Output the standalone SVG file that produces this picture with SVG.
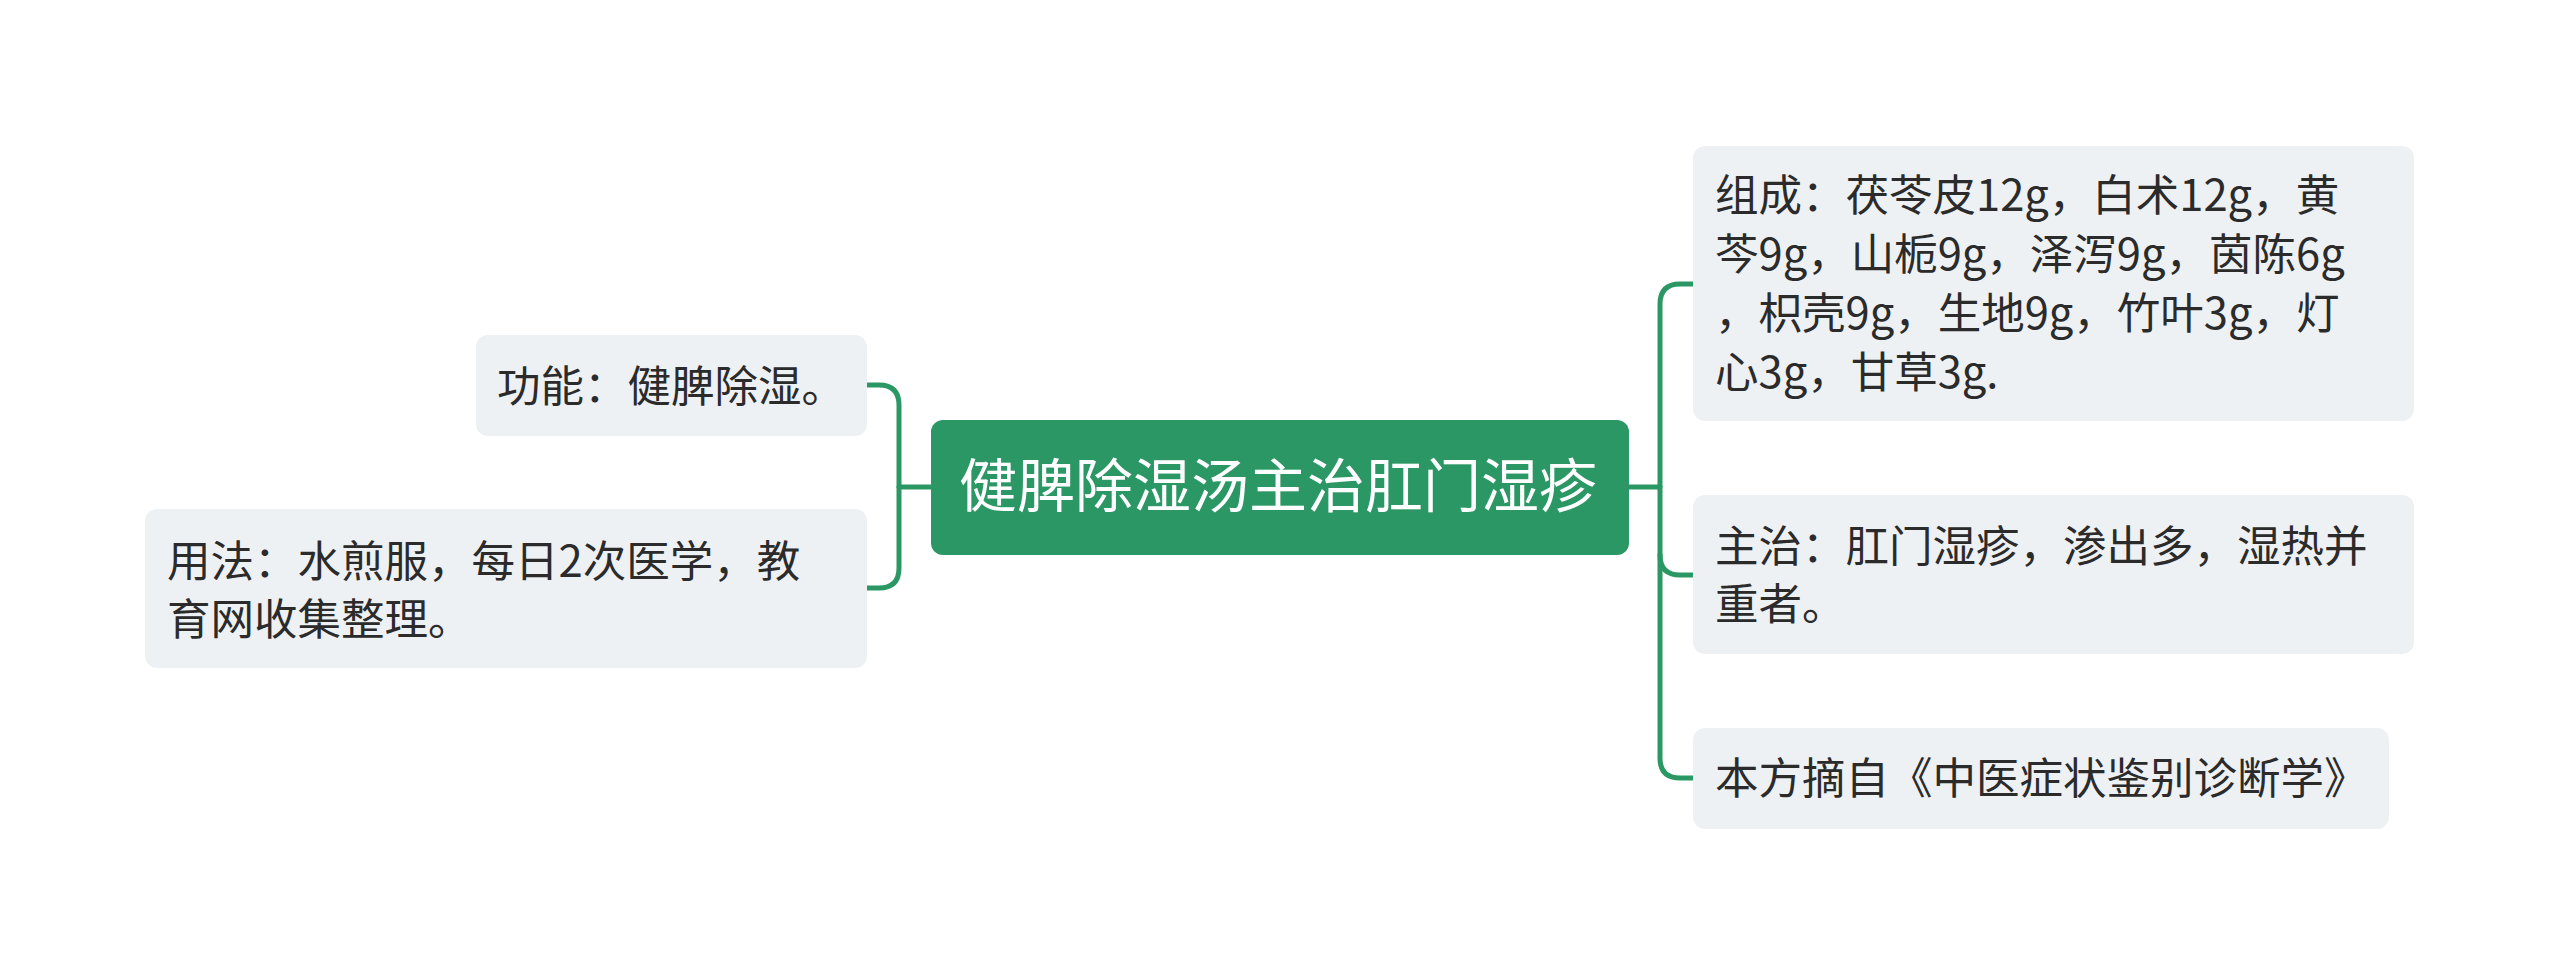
<svg xmlns="http://www.w3.org/2000/svg" width="2560" height="975" viewBox="0 0 2560 975">
<style>
.sub{fill:#eef1f4}
.t{font-family:"Noto Sans CJK SC","Noto Sans",sans-serif;font-size:43.5px;fill:#2b2b2b}
.mt{font-family:"Noto Sans CJK SC","Noto Sans",sans-serif;font-size:58px;fill:#ffffff}
.c{fill:none;stroke:#2a9764;stroke-width:5;stroke-linecap:round;stroke-linejoin:round}
</style>
<rect width="2560" height="975" fill="#ffffff"/>
<g id="connectors">
<path class="c" d="M931,487 H899 V405 Q899,385 879,385 H867"/>
<path class="c" d="M899,487 V568 Q899,588 879,588 H867"/>
<path class="c" d="M1629,487 H1660 V304 Q1660,284 1680,284 H1693"/>
<path class="c" d="M1660,487 V555 Q1660,575 1680,575 H1693"/>
<path class="c" d="M1660,555 V758 Q1660,778 1680,778 H1693"/>
</g>
<g id="root">
<rect x="931" y="420" width="698" height="135" rx="12" fill="#2a9764"/>
<text class="mt" x="959" y="507">健脾除湿汤主治肛门湿疹</text>
</g>
<g id="n-gongneng">
<rect class="sub" x="476" y="335" width="391" height="101" rx="12"/>
<text class="t" x="497" y="402">功能：健脾除湿。</text>
</g>
<g id="n-yongfa">
<rect class="sub" x="145" y="509" width="722" height="159" rx="12"/>
<text class="t" x="167" y="577">用法：水煎服，每日2次医学，教</text>
<text class="t" x="167" y="635">育网收集整理。</text>
</g>
<g id="n-zucheng">
<rect class="sub" x="1693" y="146" width="721" height="275" rx="12"/>
<text class="t" x="1715" y="211">组成：茯苓皮12g，白术12g，黄</text>
<text class="t" x="1715" y="270">芩9g，山栀9g，泽泻9g，茵陈6g</text>
<text class="t" x="1715" y="329">，枳壳9g，生地9g，竹叶3g，灯</text>
<text class="t" x="1715" y="388">心3g，甘草3g.</text>
</g>
<g id="n-zhuzhi">
<rect class="sub" x="1693" y="495" width="721" height="159" rx="12"/>
<text class="t" x="1715" y="562">主治：肛门湿疹，渗出多，湿热并</text>
<text class="t" x="1715" y="620">重者。</text>
</g>
<g id="n-benfang">
<rect class="sub" x="1693" y="728" width="696" height="101" rx="12"/>
<text class="t" x="1715" y="794">本方摘自《中医症状鉴别诊断学》</text>
</g>
</svg>
